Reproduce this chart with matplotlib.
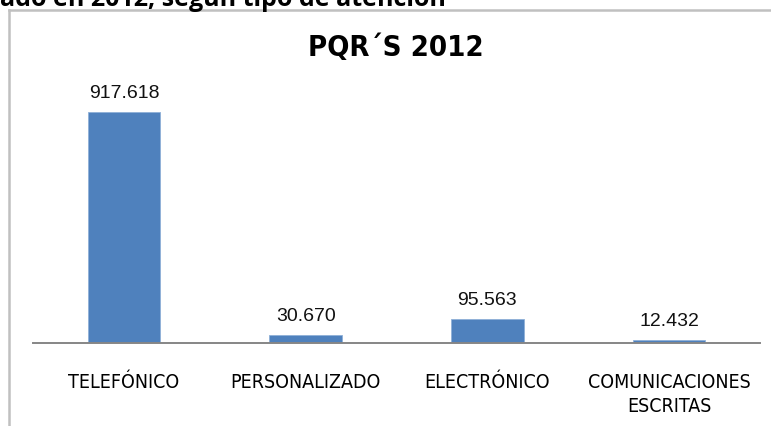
import matplotlib.pyplot as plt
from matplotlib.lines import Line2D

# Data
categorias = ['TELEFÓNICO', 'PERSONALIZADO', 'ELECTRÓNICO', 'COMUNICACIONES\nESCRITAS']
valores = [917.618, 30.670, 95.563, 12.432]
etiquetas = ['917.618', '30.670', '95.563', '12.432']

fig = plt.figure(figsize=(7.71, 4.27), dpi=100)
W, H = 771, 427

# Heading cut off at the top of the picture
fig.text(0 / W, 1 - 6 / H, 'ado en 2012, según tipo de atención', fontsize=18,
         fontweight='bold', family=['Open Sans', 'DejaVu Sans'],
         ha='left', va='baseline', color='black')

# Chart frame (goes off the right and bottom edges)
fig.add_artist(Line2D([9 / W, 9 / W], [0, 1 - 11 / H], transform=fig.transFigure,
                      color='#c0c0c0', lw=1.8))
fig.add_artist(Line2D([9 / W, 1.0], [1 - 11 / H, 1 - 11 / H], transform=fig.transFigure,
                      color='#c0c0c0', lw=1.8))

ax = fig.add_axes([33 / W, 1 - 344 / H, 727 / W, 244 / H])
x = range(len(categorias))
ax.bar(x, valores, width=0.4, color='#4f81bd', edgecolor='#8fb0d8', linewidth=0.6)
ax.set_xlim(-0.5, len(categorias) - 0.5)
ax.set_ylim(0, 917.618 * 244 / 231)

for xi, v, t in zip(x, valores, etiquetas):
    ax.annotate(t, (xi, v), xytext=(0, 8), textcoords='offset points',
                ha='center', va='bottom', fontsize=14,
                family=['Liberation Sans', 'DejaVu Sans'], color='#111111')

ax.set_xticks(list(x))
ax.set_xticklabels(categorias, family='DejaVu Sans', fontstretch='condensed',
                   fontsize=14, linespacing=1.3)
ax.tick_params(axis='x', length=0, pad=21)
ax.set_yticks([])
for s in ['top', 'right', 'left']:
    ax.spines[s].set_visible(False)
ax.spines['bottom'].set_color('#868686')
ax.spines['bottom'].set_linewidth(1.4)

fig.text(396 / W, 1 - 48 / H, 'PQR´S 2012', ha='center', va='center',
         fontsize=21, fontweight='bold', family='DejaVu Sans', fontstretch='condensed')

fig.savefig('out.png', dpi=100)
